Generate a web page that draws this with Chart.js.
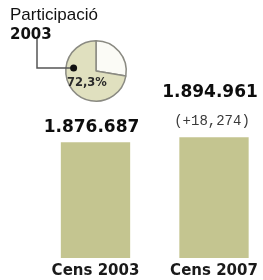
<!DOCTYPE html>
<html>
<head>
<meta charset="utf-8">
<script src="https://cdn.jsdelivr.net/npm/chart.js@4.4.1/dist/chart.umd.min.js"></script>
<style>
  html, body { margin: 0; padding: 0; background: #fff; width: 263px; height: 280px; overflow: hidden; }
  #wrap { position: relative; width: 263px; height: 280px; }
  #bars, #pie { position: absolute; left: 0; top: 0; }
  .title { position: absolute; left: 10px; top: 5px; font: 17px "Liberation Sans", Arial, sans-serif; color: #111; line-height: 19px; }
  .title b { font: bold 15px "DejaVu Sans", sans-serif; }
</style>
</head>
<body>
<div id="wrap">
  <canvas id="bars" width="263" height="280"></canvas>
  <canvas id="pie" width="140" height="110"></canvas>
  <div class="title">Participació<br><b>2003</b></div>
</div>
<script>
// dades
const categories = ['Cens 2003', 'Cens 2007'];
const electors = [1876687, 1894961];
const pieLabels = ['Abstenció', 'Participació'];
const pieValues = [27.7, 72.3];
const pieText = '72,3%';

// eix Y retallat (les barres no comencen a zero)
const Y_MIN = 1456000;
const Y_MAX = 2030000;

function dots(n) {
  return String(n).replace(/\B(?=(\d{3})+(?!\d))/g, '.');
}
function commas(n) {
  return String(n).replace(/\B(?=(\d{3})+(?!\d))/g, ',');
}

// etiquetes damunt les barres
const barLabels = {
  id: 'barLabels',
  afterDatasetsDraw(chart) {
    const ctx = chart.ctx;
    const bars = chart.getDatasetMeta(0).data;
    ctx.save();
    ctx.textAlign = 'center';
    ctx.textBaseline = 'middle';
    bars.forEach((bar, i) => {
      ctx.fillStyle = '#0d0d0d';
      ctx.font = 'bold 17px "DejaVu Sans"';
      if (i == 0) {
        ctx.fillText(dots(electors[i]), bar.x - 4, bar.y - 15);
      } else {
        ctx.fillText(dots(electors[i]), bar.x - 4, bar.y - 45);
        let diff = electors[i] - electors[i - 1];
        ctx.font = '14px "Liberation Mono"';
        ctx.fillStyle = '#3a3a3a';
        ctx.fillText('(+' + commas(diff) + ')', bar.x - 2, bar.y - 16);
      }
    });
    ctx.restore();
  }
};

new Chart(document.getElementById('bars'), {
  type: 'bar',
  data: {
    labels: categories,
    datasets: [{
      data: electors,
      base: Y_MIN,
      backgroundColor: '#c4c590',
      borderWidth: 0,
      categoryPercentage: 0.65,
      barPercentage: 0.9,
      clip: false
    }]
  },
  options: {
    responsive: false,
    animation: false,
    events: [],
    layout: { padding: { left: 95.5, right: 49, top: 100, bottom: -4 } },
    plugins: { legend: { display: false }, tooltip: { enabled: false } },
    scales: {
      x: {
        offset: false,
        grid: { display: false, drawTicks: false },
        border: { display: false },
        ticks: { padding: 4, color: '#1a1a1a', font: { family: 'DejaVu Sans', weight: 'bold', size: 15 } }
      },
      y: { display: false, min: Y_MIN, max: Y_MAX }
    }
  },
  plugins: [barLabels]
});

// línia indicadora i percentatge sobre el pastís
const pieNote = {
  id: 'pieNote',
  afterDraw(chart) {
    const ctx = chart.ctx;
    const arc = chart.getDatasetMeta(0).data[1];
    const cx = arc.x, cy = arc.y, r = arc.outerRadius;
    const dx = cx - 0.74 * r, dy = cy - 0.1 * r;
    ctx.save();
    ctx.strokeStyle = '#555';
    ctx.lineWidth = 1.5;
    ctx.beginPath();
    ctx.moveTo(37, 39);
    ctx.lineTo(37, dy);
    ctx.lineTo(dx, dy);
    ctx.stroke();
    ctx.fillStyle = '#111';
    ctx.beginPath();
    ctx.arc(dx, dy, 3.5, 0, Math.PI * 2);
    ctx.fill();
    ctx.font = 'bold 11.5px "DejaVu Sans"';
    ctx.fillStyle = '#2a2a2a';
    ctx.textAlign = 'center';
    ctx.textBaseline = 'middle';
    ctx.fillText(pieText, cx - 0.3 * r, cy + 0.39 * r);
    ctx.restore();
  }
};

new Chart(document.getElementById('pie'), {
  type: 'pie',
  data: {
    labels: pieLabels,
    datasets: [{
      data: pieValues,
      backgroundColor: ['#fbfbf6', '#e0e0bf'],
      borderColor: '#8a8a82',
      borderWidth: 1.5
    }]
  },
  options: {
    responsive: false,
    animation: false,
    events: [],
    layout: { padding: { left: 65, top: 40, right: 13, bottom: 8 } },
    plugins: { legend: { display: false }, tooltip: { enabled: false } }
  },
  plugins: [pieNote]
});
</script>
</body>
</html>
